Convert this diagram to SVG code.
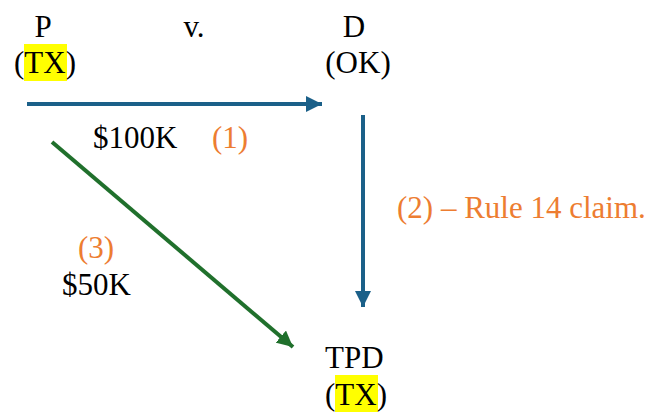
<svg xmlns="http://www.w3.org/2000/svg" width="653" height="412" viewBox="0 0 653 412">
<style>
.o{fill:#ED7D31}
.hl{fill:#FFFF00}
.blue{stroke:#1B6089;stroke-width:4;fill:none}
.green{stroke:#20702C;stroke-width:4;fill:none}
</style>
<defs>
<marker id="ab" viewBox="0 0 10 10" refX="10" refY="5" markerWidth="4" markerHeight="4" markerUnits="strokeWidth" orient="auto"><path d="M0,0 L10,5 L0,10 Z" fill="#1B6089"/></marker>
<marker id="ag" viewBox="0 0 10 10" refX="10" refY="5" markerWidth="4" markerHeight="4" markerUnits="strokeWidth" orient="auto"><path d="M0,0 L10,5 L0,10 Z" fill="#20702C"/></marker>
</defs>
<rect width="653" height="412" fill="#fff"/>
<g id="connectors">
<line class="blue" x1="27" y1="104" x2="322" y2="104" marker-end="url(#ab)"/>
<line class="blue" x1="363" y1="115" x2="363" y2="307" marker-end="url(#ab)"/>
<line class="green" x1="52" y1="142" x2="293" y2="347" marker-end="url(#ag)"/>
</g>
<g id="P">
<text x="43" y="37" text-anchor="middle" font-family="Liberation Serif" font-size="31">P</text>
<rect class="hl" x="24" y="44" width="43" height="37"/>
<text x="14" y="73" font-family="Liberation Serif" font-size="31">(TX)</text>
</g>
<g id="vs"><text x="194" y="37" text-anchor="middle" font-family="Liberation Serif" font-size="31">v.</text></g>
<g id="D">
<text x="354" y="37" text-anchor="middle" font-family="Liberation Serif" font-size="31">D</text>
<text x="358" y="73" text-anchor="middle" font-family="Liberation Serif" font-size="31">(OK)</text>
</g>
<g id="TPD">
<text x="325" y="368" font-family="Liberation Serif" font-size="31">TPD</text>
<rect class="hl" x="335" y="375" width="43" height="37"/>
<text x="325" y="405" font-family="Liberation Serif" font-size="31">(TX)</text>
</g>
<g id="labels">
<text x="93" y="148" font-family="Liberation Serif" font-size="31">$100K</text>
<text class="o" x="212" y="148" font-family="Liberation Serif" font-size="31">(1)</text>
<text class="o" x="397" y="218" font-family="Liberation Serif" font-size="31">(2) – Rule 14 claim.</text>
<text class="o" x="78" y="258" font-family="Liberation Serif" font-size="31">(3)</text>
<text x="62" y="295" font-family="Liberation Serif" font-size="31">$50K</text>
</g>
</svg>
